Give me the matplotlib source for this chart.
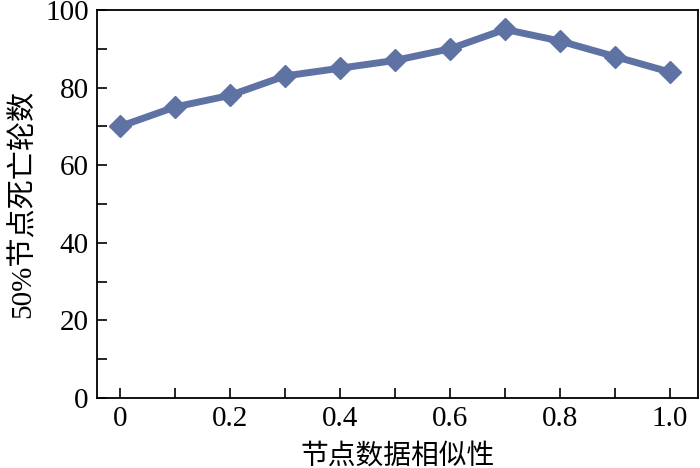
import matplotlib
matplotlib.use('Agg')
from matplotlib import pyplot as plt
from matplotlib.ticker import MultipleLocator

plt.rcParams['font.family'] = ['Liberation Serif', 'Noto Sans CJK SC']
plt.rcParams['axes.unicode_minus'] = False

# data
similarity = [0, 0.1, 0.2, 0.3, 0.4, 0.5, 0.6, 0.7, 0.8, 0.9, 1.0]
rounds = [70, 75, 78, 83, 85, 87, 90, 95, 92, 88, 84]
xticks = [0, 0.2, 0.4, 0.6, 0.8, 1.0]
xticklabels = ['0', '0.2', '0.4', '0.6', '0.8', '1.0']

fig = plt.figure(figsize=(7, 4.68), dpi=100)
ax = fig.add_axes([97/700, 70/468, 601/700, 388/468])

ax.plot(similarity, rounds, color='#5e72a3', lw=5, marker='D',
        markersize=11, markeredgecolor='#5e72a3')

ax.set_xlim(-0.042, 1.051)
ax.set_ylim(0, 100)
ax.set_xticks(xticks)
ax.set_xticklabels(xticklabels)
ax.xaxis.set_minor_locator(MultipleLocator(0.1))
ax.yaxis.set_major_locator(MultipleLocator(20))
ax.yaxis.set_minor_locator(MultipleLocator(10))
ax.tick_params(which='both', direction='in', top=False, right=False,
               labelsize=21, width=1.2)
ax.tick_params(which='major', length=7, pad=6)
ax.tick_params(which='minor', length=7)
for s in ax.spines.values():
    s.set_linewidth(1.3)

ax.set_xlabel('节点数据相似性', fontsize=20, labelpad=8)
ax.set_ylabel('50%节点死亡轮数', fontsize=21, labelpad=6)

fig.savefig('out.png', dpi=100)
